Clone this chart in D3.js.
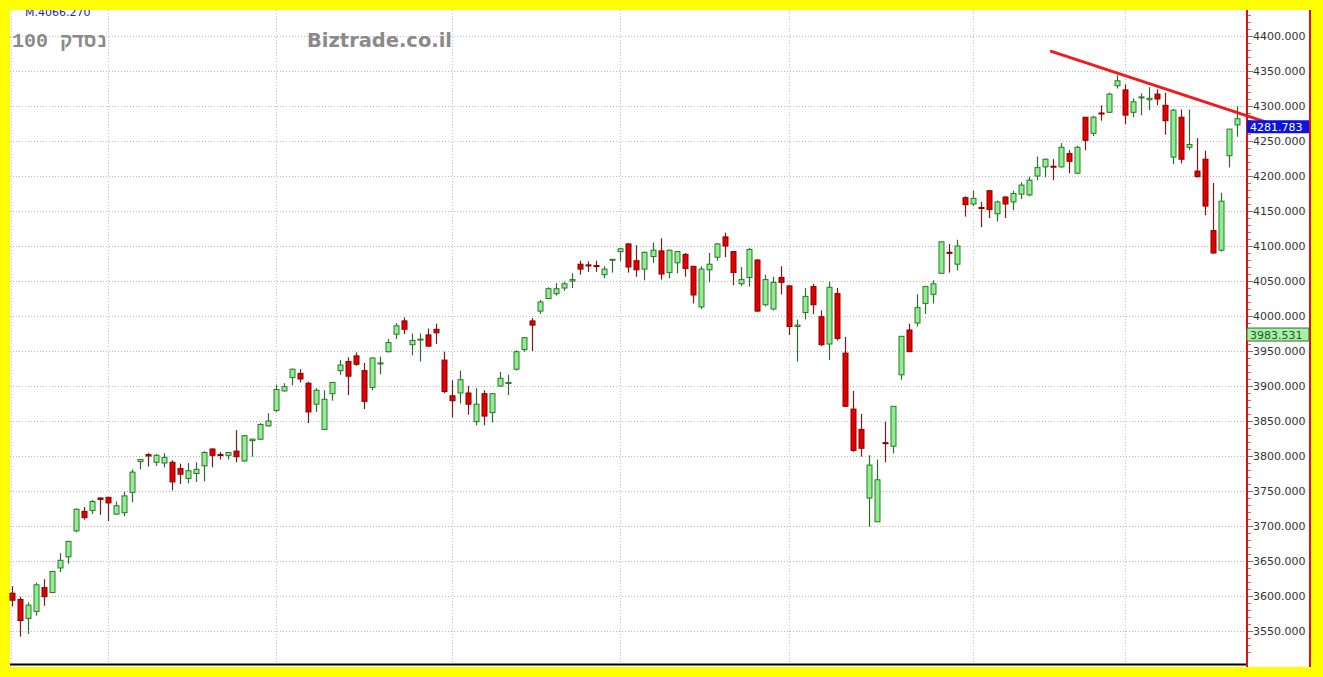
<!DOCTYPE html>
<html>
<head>
<meta charset="utf-8">
<script src="https://cdn.jsdelivr.net/npm/d3@7/dist/d3.min.js"></script>
<style>
html,body{margin:0;padding:0;background:#ffff00;}
svg{display:block;}
</style>
</head>
<body>
<svg id="chart" width="1323" height="677"></svg>
<script>
// ---- data ----
const opens  = [3604,3595,3568,3578,3612,3605,3640,3656,3693,3721,3722,3740,3741,3717,3719,3748,3792,3802,3791,3790,
3791,3782,3768,3775,3786,3810,3802,3801,3807,3793,3822,3824,3843,3865,3893,3912,3918,3904,3874,3838,
3889,3922,3935,3943,3922,3898,3932,3949,3974,3993,3959,3966,3973,3981,3937,3886,3890,3890,3849,3889,
3862,3900,3904,3924,3952,3993,4007,4025,4032,4040,4050,4074,4073,4072,4059,4080,4092,4103,4079,4067,
4085,4093,4062,4076,4088,4071,4013,4066,4084,4113,4092,4046,4055,4080,4016,4010,4055,4043,3985,4005,
4042,3999,3960,4032,3947,3867,3838,3740,3706,3819,3814,3916,3980,3990,4018,4031,4061,4091,4074,4169,
4160,4155,4179,4146,4170,4163,4174,4173,4200,4213,4214,4213,4232,4204,4284,4261,4290,4291,4329,4323,
4291,4312,4309,4317,4301,4227,4284,4241,4207,4224,4122,4094,4229,4273];
const highs  = [3614,3599,3591,3619,3624,3636,3661,3679,3725,3727,3737,3741,3741,3735,3749,3781,3795,3804,3803,3804,
3794,3789,3790,3791,3807,3811,3806,3805,3837,3830,3825,3847,3861,3902,3904,3925,3924,3906,3897,3894,
3906,3937,3941,3948,3933,3941,3942,3967,3990,3998,3975,3975,3982,3989,3949,3908,3922,3900,3897,3894,
3890,3920,3916,3951,3970,3997,4023,4041,4047,4049,4061,4079,4078,4079,4071,4081,4097,4104,4101,4092,
4105,4111,4095,4093,4090,4071,4071,4090,4104,4119,4093,4070,4097,4081,4059,4056,4071,4044,3995,4040,
4046,4008,4049,4040,3970,3893,3860,3801,3795,3849,3871,3971,3989,4031,4043,4051,4106,4103,4109,4171,
4179,4163,4180,4165,4171,4179,4191,4199,4228,4225,4224,4247,4237,4243,4284,4286,4301,4319,4344,4331,
4311,4318,4327,4324,4319,4296,4295,4295,4254,4236,4190,4176,4267,4300];
const lows   = [3585,3542,3546,3572,3586,3604,3634,3646,3691,3709,3717,3716,3707,3716,3714,3734,3781,3785,3786,3784,
3751,3760,3761,3763,3764,3784,3795,3795,3791,3792,3799,3823,3842,3863,3892,3901,3905,3847,3863,3837,
3879,3916,3887,3929,3867,3894,3917,3948,3967,3974,3944,3935,3956,3960,3890,3855,3875,3859,3844,3844,
3848,3899,3887,3922,3949,3950,4003,4024,4029,4036,4040,4059,4063,4063,4054,4062,4078,4062,4056,4051,
4076,4052,4054,4061,4056,4018,4010,4048,4079,4084,4044,4043,4042,4006,4014,4008,4031,3973,3935,3995,
4003,3957,3937,3965,3870,3806,3799,3699,3706,3791,3804,3909,3949,3985,4003,4018,4061,4062,4065,4142,
4157,4127,4140,4135,4140,4151,4167,4171,4194,4198,4194,4212,4204,4203,4237,4257,4279,4290,4325,4274,
4284,4287,4294,4301,4259,4217,4218,4237,4198,4144,4089,4092,4212,4256];
const closes = [3594,3565,3587,3616,3599,3635,3651,3678,3724,3712,3735,3738,3733,3729,3743,3777,3795,3800,3801,3798,
3763,3774,3779,3781,3805,3801,3801,3805,3799,3829,3824,3845,3850,3895,3899,3924,3910,3863,3894,3881,
3905,3930,3914,3931,3878,3940,3933,3962,3986,3981,3965,3967,3957,3976,3892,3879,3909,3874,3874,3857,
3889,3911,3905,3949,3969,3987,4020,4039,4039,4046,4052,4067,4072,4071,4067,4081,4096,4070,4066,4091,
4094,4060,4094,4092,4068,4030,4067,4074,4103,4100,4062,4052,4095,4007,4052,4048,4048,3985,3987,4028,
4016,3959,4041,3968,3871,3808,3811,3787,3766,3818.5,3871,3971,3949,4012,4042,4046,4106,4090,4100,4159,
4168,4154,4152,4163,4160,4175,4187,4194,4212,4224,4213,4241,4221,4241,4251,4284,4289,4317,4336,4287,
4306,4313,4311,4310,4279,4294,4224,4245,4199,4157,4090,4164,4267,4281.783];
// index of the first trading day of each month (Jun..Dec)
const monthStarts = [12,33,55,76,97,120,139];
// y axis tick labels
const yTicks = [3550,3600,3650,3700,3750,3800,3850,3900,3950,4000,4050,4100,4150,4200,4250,4300,4350,4400];
// trend line (two anchor points: candle index, value)
const trendIdx = [129.8,156.9];
const trendVal = [4378,4276];
// marker labels on the price axis
const lastValue = 4281.783;
const greenMarker = 3983.531;
const topInfo = "M.4066.270";
const titleText = "100 נסדק";
const brandText = "Biztrade.co.il";

// ---- drawing ----
const svg = d3.select("#chart");
const W = 1323, H = 677;
const plotL = 10, plotR = 1247, plotT = 10, plotB = 665;

const n = opens.length;
const x = d3.scaleBand().domain(d3.range(n)).range([7.7, 7.7 + 8.01*n]).padding(0);
const cx = i => x(i) + x.bandwidth()/2;
const xl = d3.scaleLinear().domain([0, n-1]).range([cx(0), cx(n-1)]);
const y = d3.scaleLinear().domain([3550, 4400]).range([631, 36]);

// background
svg.append("rect").attr("width",W).attr("height",H).attr("fill","#ffff00");
svg.append("rect").attr("x",plotL).attr("y",plotT).attr("width",1311-plotL).attr("height",667-plotT).attr("fill","#ffffff");

// info text (clipped by top yellow)
svg.append("text").attr("x",25).attr("y",15.5).attr("fill","#1c2aa0")
  .attr("font-family","DejaVu Sans, Verdana, sans-serif").attr("font-size",11).text(topInfo);

// grid
const grid = svg.append("g");
grid.selectAll("line.h").data(yTicks).join("line")
  .attr("x1",plotL).attr("x2",plotR).attr("y1",d=>Math.round(y(d))+0.5).attr("y2",d=>Math.round(y(d))+0.5)
  .attr("stroke","#b8b8b8").attr("stroke-width",1).attr("stroke-dasharray","1,2");
grid.selectAll("line.v").data(monthStarts).join("line")
  .attr("x1",d=>Math.round(cx(d))+0.5).attr("x2",d=>Math.round(cx(d))+0.5).attr("y1",plotT).attr("y2",plotB)
  .attr("stroke","#c4c4c4").attr("stroke-width",1).attr("stroke-dasharray","1,2");
grid.append("line").attr("x1",11.5).attr("x2",11.5).attr("y1",plotT).attr("y2",plotB)
  .attr("stroke","#c8c8c8").attr("stroke-dasharray","1,2");

// watermark texts
svg.append("text").attr("x",12).attr("y",47).attr("fill","#8a8a8a")
  .attr("font-family","Liberation Mono, DejaVu Sans Mono, monospace").attr("font-weight","bold")
  .attr("font-size",20).text(titleText);
svg.append("text").attr("x",307).attr("y",47).attr("fill","#8a8a8a")
  .attr("font-family","DejaVu Sans, Verdana, sans-serif").attr("font-weight","bold")
  .attr("font-size",19).attr("textLength",145).attr("lengthAdjust","spacingAndGlyphs").text(brandText);

// candles
const data = d3.range(n).map(i => ({i, o:opens[i], h:highs[i], l:lows[i], c:closes[i]}));
const g = svg.append("g");
const up = d => d.c >= d.o;
g.selectAll("line.wick").data(data).join("line")
  .attr("x1",d=>Math.round(cx(d.i))+0.5).attr("x2",d=>Math.round(cx(d.i))+0.5)
  .attr("y1",d=>y(d.h)).attr("y2",d=>y(d.l))
  .attr("stroke",d=>up(d)?"#2f6a2f":"#7a1c1c").attr("stroke-width",1.2);
g.selectAll("rect.body").data(data).join("rect")
  .attr("x",d=>Math.round(cx(d.i))-2)
  .attr("width",5)
  .attr("y",d=>y(Math.max(d.o,d.c)))
  .attr("height",d=>Math.max(1, Math.abs(y(d.o)-y(d.c))))
  .attr("fill",d=>up(d)?"#90ee90":"#e00000")
  .attr("stroke",d=>up(d)?"#2a7a2a":"#8a0000").attr("stroke-width",1);

// trend line
svg.append("line")
  .attr("x1",xl(trendIdx[0])).attr("y1",y(trendVal[0]))
  .attr("x2",xl(trendIdx[1])).attr("y2",y(trendVal[1]))
  .attr("stroke","#ee1c1c").attr("stroke-width",3).attr("stroke-linecap","round");

// bottom line
svg.append("line").attr("x1",plotL).attr("x2",plotR).attr("y1",664.5).attr("y2",664.5)
  .attr("stroke","#000").attr("stroke-width",2.2);

// y axis
const axisX = 1247;
const minor = d3.range(3520, 4431, 10).filter(v => v % 50 !== 0);
const axMinor = svg.append("g").attr("transform",`translate(${axisX},0)`)
  .call(d3.axisRight(y).tickValues(minor).tickSize(4).tickFormat(""));
axMinor.select(".domain").remove();
axMinor.selectAll(".tick line").attr("stroke","#e06060");
const ax = svg.append("g").attr("transform",`translate(${axisX},0)`)
  .call(d3.axisRight(y).tickValues(yTicks).tickSize(6).tickPadding(0).tickFormat(d3.format(".3f")));
ax.select(".domain").remove();
ax.selectAll(".tick line").attr("stroke","#777");
ax.selectAll(".tick text").attr("x",6).attr("fill","#333")
  .attr("font-family","DejaVu Sans, Verdana, sans-serif").attr("font-size",11);

// red vertical borders
svg.append("line").attr("x1",1247).attr("x2",1247).attr("y1",plotT).attr("y2",667)
  .attr("stroke","#e01010").attr("stroke-width",2);
svg.append("line").attr("x1",1310).attr("x2",1310).attr("y1",plotT).attr("y2",667)
  .attr("stroke","#e01010").attr("stroke-width",2);

// value markers
function marker(val, bg, border, fg, dy){
  const yy = y(val) + dy;
  svg.append("rect").attr("x",1247).attr("y",yy).attr("width",62).attr("height",13)
    .attr("fill",bg).attr("stroke",border).attr("stroke-width",border==="none"?0:1);
  svg.append("text").attr("x",1250).attr("y",yy+11).attr("fill",fg)
    .attr("font-family","DejaVu Sans, Verdana, sans-serif").attr("font-size",11).text(d3.format(".3f")(val));
}
marker(lastValue, "#0a14e0", "none", "#ffffff", 1.5);
marker(greenMarker, "#a8f0a8", "#2f6f2f", "#1e5a1e", 0.5);

// top yellow (clips info text)
svg.append("rect").attr("x",0).attr("y",0).attr("width",W).attr("height",plotT).attr("fill","#ffff00");
svg.append("rect").attr("x",0).attr("y",667).attr("width",W).attr("height",10).attr("fill","#ffff00");
</script>
</body>
</html>
